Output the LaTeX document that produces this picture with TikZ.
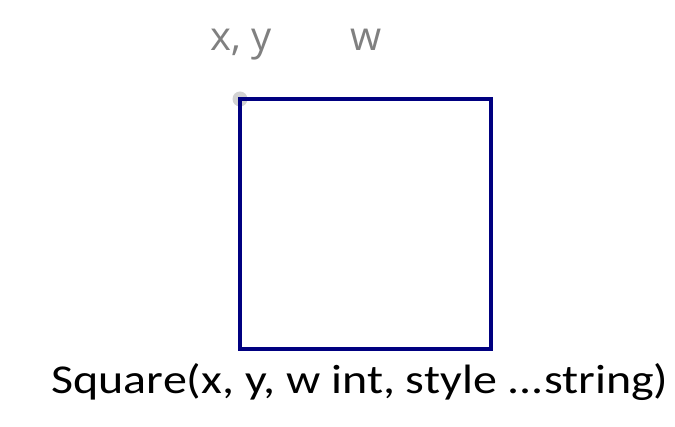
\documentclass[tikz,border=0pt]{standalone}
\usepackage{fontspec}
\setmainfont{Carlito}
\newfontfamily\labelfont{Open Sans}
\usepackage{xcolor}
\usepackage{tikz}
\usetikzlibrary{positioning}

\definecolor{sqnavy}{RGB}{0,0,128}
\definecolor{labelgray}{RGB}{128,128,128}
\definecolor{dotgray}{RGB}{210,210,210}

\begin{document}
\begin{tikzpicture}[
    x=1pt, y=-1pt,
    argtext/.style={text=labelgray, font=\labelfont\fontsize{40}{48}\selectfont, anchor=base, inner sep=0pt},
    sigtext/.style={font=\fontsize{41}{49}\selectfont, anchor=base, inner sep=0pt},
    sqline/.style={draw=sqnavy, line width=3.5pt}
]
\useasboundingbox (0,0) rectangle (675,427);
% corner marker
\fill[dotgray] (240,99) circle (7.5);
\coordinate (origin) at (240,99);
\coordinate (far) at (491,349);
\draw[sqline] (origin) rectangle (far);
% labels
\node[argtext] (xy) at (241,51) {x, y};
\node[argtext] (w) at (366,51) {w};
\node[sigtext] (sig) at (360,394) {\scalebox{1.17}[1]{Square(x, y, w int, style ...string)}};
\end{tikzpicture}
\end{document}
